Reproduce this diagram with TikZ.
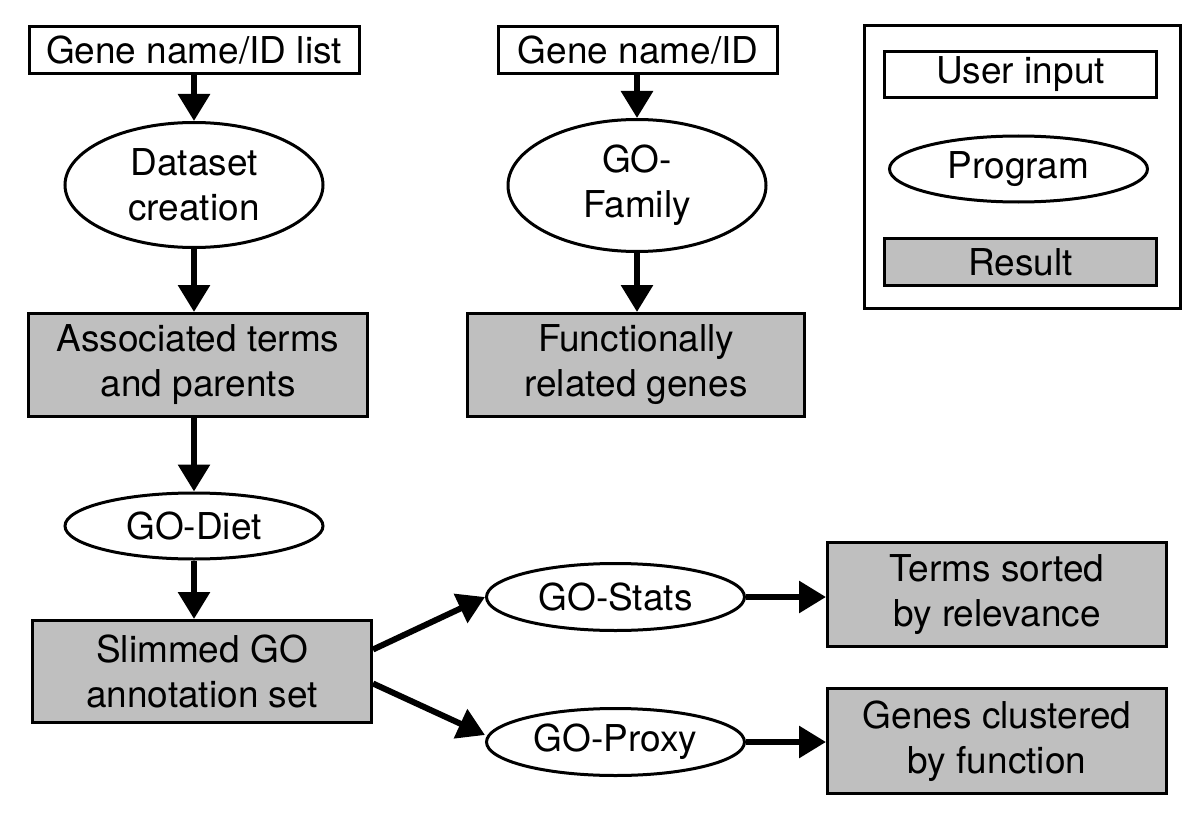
\documentclass[tikz,border=0pt]{standalone}
\usepackage{fontspec}
\setmainfont{TeX Gyre Heros}
\usetikzlibrary{shapes.geometric,arrows.meta}

\begin{document}
\begin{tikzpicture}[x=1pt,y=-1pt,
    every node/.style={font=\fontsize{37}{45}\selectfont,align=center,inner sep=0pt,line width=3pt},
    input/.style={draw,rectangle,minimum height=47pt},
    prog/.style={draw,ellipse,minimum width=258pt},
    result/.style={draw,rectangle,fill=black!25,minimum width=339pt,minimum height=103pt},
    flow/.style={-{Triangle[length=27pt,width=31pt]},line width=6pt}]
    \useasboundingbox (0,0) rectangle (1200,824);
    % left column
    \node[input,minimum width=330pt] (list) at (194,50) {Gene name/ID list};
    \node[prog,minimum height=125pt] (dataset) at (194,185) {Dataset\\creation};
    \node[result] (assoc) at (198,365) {Associated terms\\and parents};
    \node[prog,minimum height=66pt] (diet) at (194,526) {GO-Diet};
    \node[result,minimum height=102pt] (slim) at (202,671.5) {Slimmed GO\\annotation set};
    % middle column
    \node[input,minimum width=279pt] (id) at (638,50) {Gene name/ID};
    \node[prog,minimum height=132pt] (family) at (637,185.5) {GO-\\Family};
    \node[result,minimum width=337pt] (func) at (636,365) {Functionally\\related genes};
    % bottom right
    \node[prog,minimum height=67pt] (stats) at (615.5,597) {GO-Stats};
    \node[prog,minimum height=67pt] (proxy) at (615.5,742) {GO-Proxy};
    \node[result,minimum height=104pt] (terms) at (997,594.5) {Terms sorted\\by relevance};
    \node[result,minimum height=105pt] (genes) at (997,741) {Genes clustered\\by function};
    % legend
    \node[draw,minimum width=316pt,minimum height=283pt] (legend) at (1022.5,167) {};
    \node[input,minimum width=272pt,minimum height=46pt] (user) at (1020.5,74.5) {User input};
    \node[prog,minimum height=66pt] (program) at (1018.5,169) {Program};
    \node[result,minimum width=272pt,minimum height=47pt] (res) at (1020.5,262) {Result};

    \draw[flow] (list.south -| dataset.north) -- (dataset.north);
    \draw[flow] (dataset.south) -- (dataset.south |- assoc.north);
    \draw[flow] (assoc.south -| diet.north) -- (diet.north);
    \draw[flow] (diet.south) -- (diet.south |- slim.north);
    \draw[flow] (id.south -| family.north) -- (family.north);
    \draw[flow] (family.south) -- (family.south |- func.north);
    \draw[flow] ([yshift=22pt]slim.east) -- (stats.west);
    \draw[flow] ([yshift=-12pt]slim.east) -- ([yshift=7pt]proxy.west);
    \draw[flow] (stats.east) -- (stats.east -| terms.west);
    \draw[flow] (proxy.east) -- (proxy.east -| genes.west);
\end{tikzpicture}
\end{document}
